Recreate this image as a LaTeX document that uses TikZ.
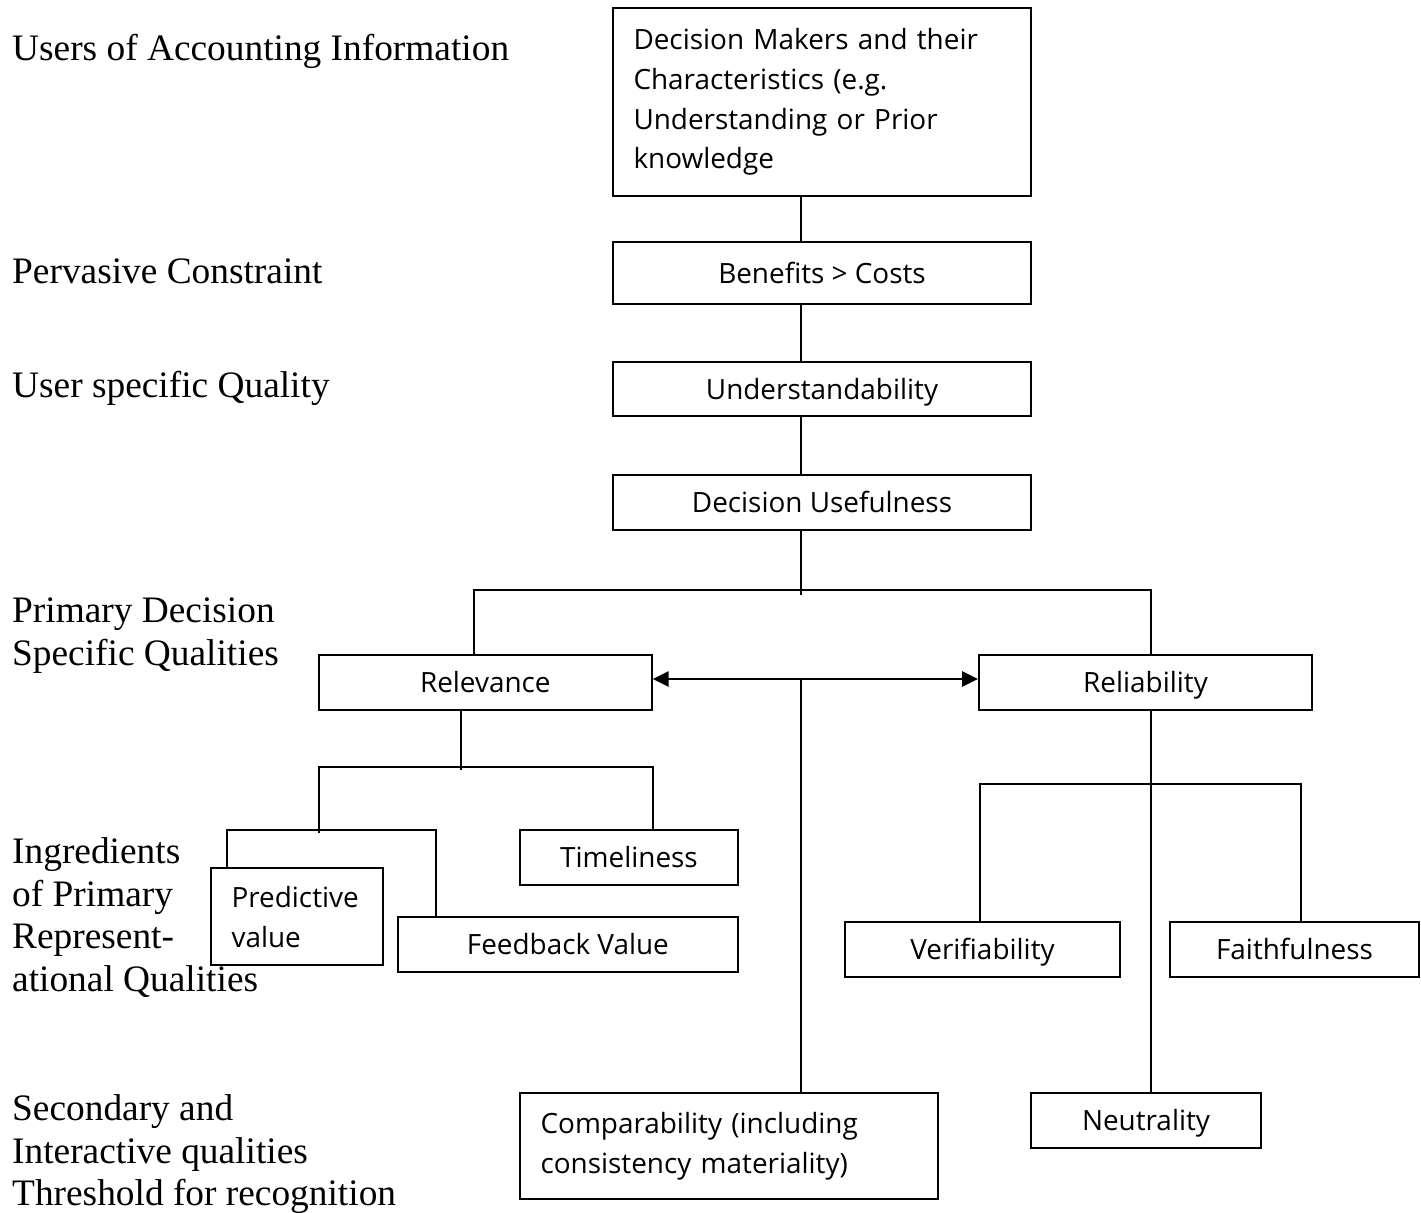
\documentclass[tikz,border=0pt]{standalone}
\usepackage{fontspec}
\setmainfont{Liberation Serif}
\newfontfamily\boxfont{Open Sans}
\usetikzlibrary{arrows.meta}
\begin{document}
\begin{tikzpicture}[x=1bp,y=-1bp,
  sbox/.style={draw, line width=2bp, inner sep=0pt, font=\boxfont\fontsize{28}{40}\selectfont, text height=20bp, text depth=0pt},
  mbox/.style={draw, line width=2bp, inner ysep=0pt, inner xsep=20.5bp, align=left, font=\boxfont\fontsize{28}{40}\selectfont},
  lbl/.style={anchor=north west, inner sep=0pt, align=left, font=\fontsize{37.5}{43}\selectfont},
  conn/.style={line width=2bp},
  dbl/.style={line width=2.7bp, {Triangle[length=16bp,width=15bp]}-{Triangle[length=16bp,width=15bp]}}
]
\fill[white] (0,0) rectangle (1421,1212);
\useasboundingbox (0,0) rectangle (1421,1212);

% left labels
\node[lbl] (l1) at (12,30) {\rule{0pt}{30bp}Users of Accounting Information};
\node[lbl] (l2) at (12,253) {\rule{0pt}{30bp}Pervasive Constraint};
\node[lbl] (l3) at (12,367) {\rule{0pt}{30bp}User specific Quality};
\node[lbl] (l4) at (12,592) {\rule{0pt}{30bp}Primary Decision\\Specific Qualities};
\node[lbl] (l5) at (12,833) {\rule{0pt}{30bp}Ingredients\\of Primary\\Represent-\\ational Qualities};
\node[lbl] (l6) at (12,1090) {\rule{0pt}{30bp}Secondary and\\Interactive qualities\\Threshold for recognition};

% boxes
\node[mbox, text width=377bp, minimum width=418bp, minimum height=187.7bp] (dm) at (822,101.9) {Decision Makers and their\\Characteristics (e.g.\\Understanding or Prior\\knowledge};
\node[sbox, minimum width=418bp, minimum height=62bp] (ben) at (822,273) {Benefits > Costs};
\node[sbox, minimum width=418bp, minimum height=54bp] (und) at (822,389) {Understandability};
\node[sbox, minimum width=418bp, minimum height=55bp] (du) at (822,502.5) {Decision Usefulness};
\node[sbox, minimum width=332.7bp, minimum height=55.3bp] (rel) at (485.3,682.7) {Relevance};
\node[sbox, minimum width=333bp, minimum height=55.3bp] (rly) at (1145.5,682.7) {Reliability};
\node[sbox, minimum width=218bp, minimum height=55bp] (tim) at (629,857.5) {Timeliness};
\node[mbox, text width=131.3bp, minimum width=172.3bp, minimum height=96.7bp] (pred) at (297.2,916.7) {Predictive\\value};
\node[sbox, minimum width=340.3bp, minimum height=55.3bp] (fb) at (567.9,944.3) {Feedback Value};
\node[sbox, minimum width=275bp, minimum height=55.3bp] (ver) at (982.5,949.3) {Verifiability};
\node[sbox, minimum width=249bp, minimum height=55bp] (fai) at (1294.5,949.2) {Faithfulness};
\node[mbox, text width=377.3bp, minimum width=418.3bp, minimum height=106.6bp] (comp) at (729.2,1146) {Comparability (including\\consistency materiality)};
\node[sbox, minimum width=230bp, minimum height=55.6bp] (neu) at (1146,1120.5) {Neutrality};

% helper coordinates
\coordinate (xc) at (801,0);
\coordinate (xrl) at (474,0);
\coordinate (xrr) at (1151,0);
\coordinate (y1) at (0,590);
\coordinate (ya) at (0,679);
\coordinate (stem1) at (801,595);
\coordinate (xrs) at (461,0);
\coordinate (stem2) at (461,770);
\coordinate (y2) at (0,767);
\coordinate (stem3) at (319,833);
\coordinate (y3) at (0,830);
\coordinate (xpl) at (227,0);
\coordinate (xpr) at (436,0);
\coordinate (y4) at (0,784);
\coordinate (xvl) at (980,0);
\coordinate (xvr) at (1301,0);

% main spine
\draw[conn] (dm.south -| xc) -- (ben.north -| xc);
\draw[conn] (ben.south -| xc) -- (und.north -| xc);
\draw[conn] (und.south -| xc) -- (du.north -| xc);
\draw[conn] (du.south -| xc) -- (stem1);
\draw[conn] (rel.north -| xrl) |- (xc |- y1) -| (rly.north -| xrr);
\draw[dbl] (rel.east |- ya) -- (rly.west |- ya);
\draw[conn] (xc |- ya) -- (comp.north -| xc);

% relevance subtree
\draw[conn] (rel.south -| xrs) -- (stem2);
\draw[conn] (stem3) |- (rel.east |- y2) -- (tim.north -| rel.east);
\draw[conn] (pred.north -| xpl) |- (xpr |- y3) -- (fb.north -| xpr);

% reliability subtree
\draw[conn] (rly.south -| xrr) -- (neu.north -| xrr);
\draw[conn] (ver.north -| xvl) |- (xvr |- y4) -- (fai.north -| xvr);
\end{tikzpicture}
\end{document}
